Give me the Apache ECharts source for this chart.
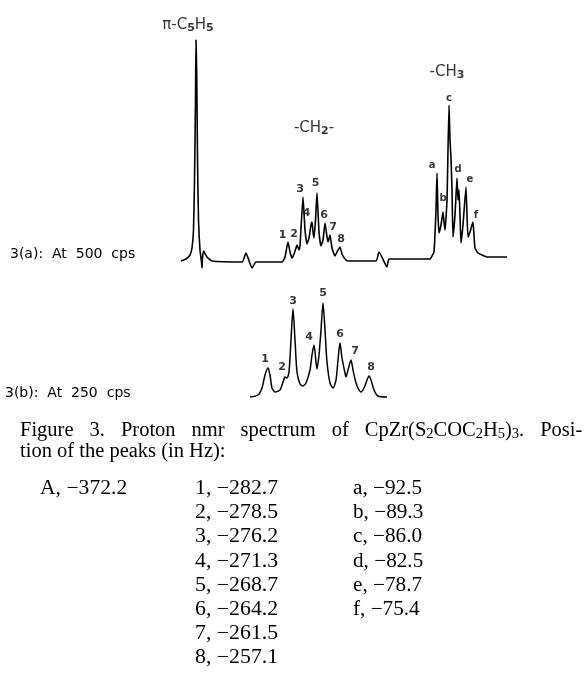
<!DOCTYPE html>
<html>
<head>
<meta charset="utf-8">
<script src="https://cdn.jsdelivr.net/npm/echarts@6/dist/echarts.min.js"></script>
<style>
  html, body { margin: 0; padding: 0; background: #fff; }
  #main { width: 587px; height: 676px; }
</style>
</head>
<body>
<div id="main"></div>
<script>
// trace of spectrum 3(a), 500 cps (x: position along the chart, y: intensity above baseline)
var traceAX = [3, 8, 12, 14, 15.5, 16.5, 17.5, 18, 18.8, 19.5, 20.5, 22, 23.5, 24, 24.5, 25.5, 29, 34,
  64, 68, 74, 78, 104, 107, 110, 112, 114, 116, 118, 119, 121, 122, 125, 127, 129, 131, 133, 134, 135, 136,
  137.5, 139, 141, 143, 145, 147, 149, 150, 152, 154, 157, 159, 162, 164, 167, 170, 198, 201, 209, 211,
  252, 254, 256, 258, 259, 260, 261, 263, 265, 266, 267, 269, 271, 272, 273, 274, 275, 277, 279, 280, 281,
  282, 283, 285, 288, 289, 290, 292, 294, 295, 296, 297, 300, 304, 309, 329];
var traceAY = [1, 3, 7, 14, 32, 82, 162, 222, 182, 102, 42, 12, 0, -6, 4, 11, 5, 1,
  0, 9, -6, 0, 0, 5, 20, 10, 4, 8, 14, 17, 12, 16, 65, 32, 18, 24, 37, 40, 30, 24,
  42, 69, 30, 16, 22, 39, 25, 20, 27, 14, 6, 10, 15, 8, 3, 1, 1, 10, -5, 3,
  3, 6, 10, 52, 89, 47, 29, 37, 50, 40, 32, 62, 157, 122, 104, 72, 25, 47, 84, 62, 72,
  47, 19, 37, 75, 47, 25, 30, 37, 40, 27, 14, 9, 7, 5, 5];

// trace of spectrum 3(b), 250 cps (-CH2- only)
var traceBX = [72, 80, 84, 87, 90, 92, 94, 97, 102, 105, 107, 109, 111, 113, 115, 117, 119, 122, 125, 128,
  132, 134, 136, 138, 139, 141, 143, 145, 147, 149, 152, 155, 158, 160, 162, 164, 167, 168, 170, 173,
  175, 178, 181, 183, 186, 189, 191, 193, 196, 200, 209];
var traceBY = [0, 2, 9, 22, 29, 22, 9, 5, 7, 15, 20, 19, 25, 57, 88, 57, 25, 13, 11, 14,
  27, 42, 52, 35, 28, 42, 67, 94, 67, 35, 14, 9, 17, 37, 54, 39, 24, 20, 27, 37,
  27, 14, 7, 5, 9, 17, 21, 17, 7, 1, 0];

// peak labels
var peakNames = ['1', '2', '3', '4', '5', '6', '7', '8'];
var peakLabelAX = [104.7, 116, 122, 128.7, 137.7, 146, 155, 163];
var peakLabelAY = [27, 28, 73, 49, 79, 47, 35, 23];
var ch3Names = ['a', 'b', 'c', 'd', 'e', 'f'];
var ch3LabelX = [254, 265, 271, 280, 292, 298];
var ch3LabelY = [97, 64, 164, 93, 83, 47];
var peakLabelBX = [87, 104, 115, 131, 145, 162, 177, 193];
var peakLabelBY = [38, 30, 96, 60, 104, 63, 46, 30];

// group labels
var groupNames = ['\u03c0-C5H5', '-CH2-', '-CH3'];
var groupX = [10, 136, 269];
var groupY = [237, 134, 190];

// peak table (Hz)
var colA = ['A, \u2212372.2'];
var colNum = ['1, \u2212282.7', '2, \u2212278.5', '3, \u2212276.2', '4, \u2212271.3',
  '5, \u2212268.7', '6, \u2212264.2', '7, \u2212261.5', '8, \u2212257.1'];
var colLet = ['a, \u221292.5', 'b, \u221289.3', 'c, \u221286.0', 'd, \u221282.5',
  'e, \u221278.7', 'f, \u221275.4'];

function pairs(xs, ys) {
  var out = [];
  for (var i = 0; i < xs.length; i++) out.push([xs[i], ys[i]]);
  return out;
}
function named(names, xs, ys) {
  var out = [];
  for (var i = 0; i < names.length; i++) out.push({ name: names[i], value: [xs[i], ys[i]] });
  return out;
}

var sans = 'DejaVu Sans, sans-serif';
var serif = 'Liberation Serif, serif';

function labelSeries(data, xi, yi, size) {
  return {
    type: 'scatter',
    xAxisIndex: xi, yAxisIndex: yi,
    data: data,
    symbolSize: 1,
    itemStyle: { color: 'rgba(0,0,0,0)' },
    label: {
      show: true, position: 'inside', formatter: '{b}',
      color: '#000', fontSize: size, fontWeight: 'bold', fontFamily: sans
    },
    silent: true
  };
}

function txt(x, y, s, size, family, sx) {
  return {
    type: 'text', x: x, y: y, scaleX: sx || 1,
    style: { text: s, fontSize: size, fontFamily: family, fill: '#000', verticalAlign: 'middle' }
  };
}

// caption line 1 is justified in the print: wider word gaps
var capRich = {
  n: { fontSize: 20.5, fontFamily: serif, color: '#000', lineHeight: 22 },
  g: { fontSize: 20.5, fontFamily: serif, width: 16, lineHeight: 22 },
  s: { fontSize: 14.5, fontFamily: serif, color: '#000', lineHeight: 8, verticalAlign: 'bottom' }
};
var capLine1 = '{n|Figure}{g| }{n|3.}{g| }{n|Proton}{g| }{n|nmr}{g| }{n|spectrum}{g| }{n|of}{g| }' +
  '{n|CpZr(S}{s|2}{n|COC}{s|2}{n|H}{s|5}{n|)}{s|3}{n|.}{g| }{n|Posi-}';

var graphics = [
  txt(10, 254, '3(a):  At  500  cps', 14, sans),
  txt(5, 393, '3(b):  At  250  cps', 14, sans),
  { type: 'text', x: 20, y: 420, style: { text: capLine1, rich: capRich, fill: '#000' } },
  txt(20, 452, 'tion of the peaks (in Hz):', 20.5, serif)
];
var rowStep = 24.1;
colA.forEach(function (t, i) { graphics.push(txt(40, 489 + i * rowStep, t, 20, serif, 1.08)); });
colNum.forEach(function (t, i) { graphics.push(txt(195, 489 + i * rowStep, t, 20, serif, 1.09)); });
colLet.forEach(function (t, i) { graphics.push(txt(353, 489 + i * rowStep, t, 20, serif, 1.06)); });

var chart = echarts.init(document.getElementById('main'));
chart.setOption({
  animation: false,
  backgroundColor: '#fff',
  grid: [
    { left: 178, top: 12, width: 330, height: 260 },
    { left: 178, top: 287, width: 330, height: 115 }
  ],
  xAxis: [
    { type: 'value', gridIndex: 0, min: 0, max: 330, show: false },
    { type: 'value', gridIndex: 1, min: 0, max: 330, show: false }
  ],
  yAxis: [
    { type: 'value', gridIndex: 0, min: -10, max: 250, show: false },
    { type: 'value', gridIndex: 1, min: -5, max: 110, show: false }
  ],
  series: [
    {
      type: 'line', xAxisIndex: 0, yAxisIndex: 0,
      data: pairs(traceAX, traceAY),
      showSymbol: false, smooth: 0.15,
      lineStyle: { color: '#000', width: 1.6 }
    },
    {
      type: 'line', xAxisIndex: 1, yAxisIndex: 1,
      data: pairs(traceBX, traceBY),
      showSymbol: false, smooth: 0.25,
      lineStyle: { color: '#000', width: 1.5 }
    },
    labelSeries(named(peakNames, peakLabelAX, peakLabelAY), 0, 0, 11),
    labelSeries(named(ch3Names, ch3LabelX, ch3LabelY), 0, 0, 10),
    labelSeries(named(peakNames, peakLabelBX, peakLabelBY), 1, 1, 11),
    {
      type: 'scatter', xAxisIndex: 0, yAxisIndex: 0,
      data: named(groupNames, groupX, groupY),
      symbolSize: 1,
      itemStyle: { color: 'rgba(0,0,0,0)' },
      label: {
        show: true, position: 'inside',
        formatter: function (p) {
          return '{n|' + p.name.replace(/(\d)/g, '}{s|$1}{n|') + '}';
        },
        rich: {
          n: { fontSize: 15, fontFamily: sans, color: '#000', lineHeight: 18 },
          s: { fontSize: 11, fontFamily: sans, fontWeight: 'bold', color: '#000', lineHeight: 8, verticalAlign: 'bottom' }
        }
      },
      silent: true
    }
  ],
  graphic: graphics
});
</script>
</body>
</html>
